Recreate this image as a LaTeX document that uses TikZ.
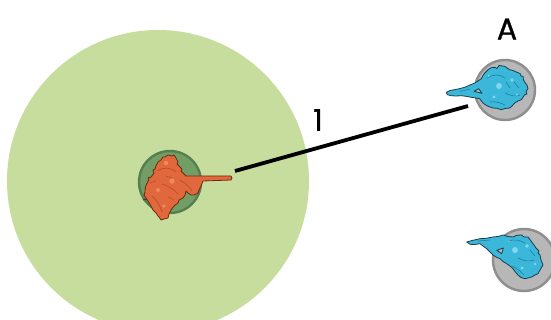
\documentclass[tikz,border=0pt]{standalone}
\usepackage{fontspec}
\setmainfont{Poppins}
\definecolor{rangefill}{HTML}{C7DD9E}
\definecolor{greenbase}{HTML}{729E66}
\definecolor{greenedge}{HTML}{557F4F}
\definecolor{graybase}{HTML}{B7B7B7}
\definecolor{grayedge}{HTML}{8E8E8E}
\definecolor{redfig}{HTML}{E0683C}
\definecolor{redline}{HTML}{6E2A12}
\definecolor{reddetail}{HTML}{B84A22}
\definecolor{redlight}{HTML}{EE8A5E}
\definecolor{bluefig}{HTML}{3BB7DA}
\definecolor{blueline}{HTML}{1B3D4A}
\definecolor{bluedetail}{HTML}{1F7F9F}
\definecolor{bluelight}{HTML}{7FD8F0}
\begin{document}
\begin{tikzpicture}[x=1pt,y=-1pt,
  basedisc/.style={line width=2.4pt},
  figure/.style={line width=0.8pt, line join=round, even odd rule},
  detail/.style={line width=0.6pt, line cap=round},
  txt/.style={font=\fontsize{30}{30}\selectfont\addfontfeature{FakeBold=1}, inner sep=0pt}]
\useasboundingbox (0,0) rectangle (551,320);
\fill[white] (0,0) rectangle (551,320);

\begin{scope}
  \clip (0,0) rectangle (551,320);
  % range circle around the shooter
  \fill[rangefill] (158,181) circle (151pt);
  % bases
  \filldraw[basedisc, fill=greenbase, draw=greenedge] (170,182) circle (31pt);
  \filldraw[basedisc, fill=graybase, draw=grayedge] (505,90) circle (30pt);
  \filldraw[basedisc, fill=graybase, draw=grayedge] (524,260) circle (31pt);
\end{scope}

% line of sight
\coordinate (shooter) at (235,171);
\coordinate (targetA) at (468,106);
\draw[line width=3.8pt] (shooter) -- (targetA);

% shooter figure (orange)
\filldraw[figure, fill=redfig, draw=redline]
  (161,160) -- (163,157) -- (165,157) -- (168,155) -- (172,156) -- (174,155)
  -- (176,158) -- (178,162) -- (177,164) -- (179,166) -- (182,169) -- (181,171)
  -- (183,173) -- (186,176) -- (231,176)
  -- (232,178) -- (231,180) -- (203,181) -- (201,186) -- (199,190)
  -- (198,193) -- (194,195) -- (191,195) -- (188,193) -- (186,191) -- (185,195)
  -- (183,198) -- (179,200) -- (178,203) -- (174,206) -- (171,210) -- (169,214)
  -- (168,218) -- (164,219) -- (161,220) -- (159,217) -- (158,216) -- (156,213)
  -- (153,210) -- (151,206) -- (148,201) -- (146,198) -- (144,195) -- (145,192)
  -- (145,190) -- (146,185) -- (149,180) -- (148,178) -- (151,177) -- (154,173)
  -- (153,170) -- (155,169) -- (156,166) -- (158,162) -- cycle;
\fill[redlight] (166,163) circle (2.2pt);
\fill[redlight] (172,181) circle (2.6pt);
\fill[redlight] (158,190) circle (2pt);
\fill[redlight] (164,206) circle (1.8pt);
\draw[detail, reddetail] (157,171) .. controls (163,167) and (170,167) .. (176,172);
\draw[detail, reddetail] (162,184) .. controls (168,186) and (174,189) .. (178,194);
\draw[detail, reddetail] (180,180) .. controls (185,183) and (189,186) .. (192,191);
\draw[detail, reddetail] (152,196) .. controls (156,200) and (160,205) .. (162,212);
\draw[detail, reddetail] (166,176) -- (172,178);
\draw[detail, reddetail] (150,183) -- (156,181);
\draw[detail, reddetail] (168,197) -- (174,200);
\draw[line width=1pt, redline] (143,200) -- (147,199);

% target figure A (blue)
\filldraw[figure, fill=bluefig, draw=blueline]
  (446.3,92.3) -- (450,90.5) -- (454.7,89.7) -- (459,88.8) -- (464.7,87.3)
  -- (470,85) -- (474.7,83) -- (478,81) -- (481.3,78.7) -- (483,75.5)
  -- (484.7,73) -- (488,69.7) -- (491,67.8) -- (494.7,67.3) -- (497,68.5) -- (499,65.5)
  -- (504.7,66.3) -- (507,68) -- (509.7,69.7) -- (513,70.5) -- (516.3,72) -- (520,73.5)
  -- (521,76) -- (523,76.3) -- (523.5,80) -- (525.3,83) -- (527,85) -- (528,88.7) -- (526,91.5)
  -- (527,94) -- (524.7,94.7) -- (521.3,99.7) -- (518,101) -- (514.7,103) -- (512,106)
  -- (509.7,108) -- (505,108.5) -- (501.3,109.7) -- (497,108.3) -- (493,108)
  -- (488,106.3) -- (485,104.5) -- (483,103) -- (481,100.5) -- (479.7,98.7)
  -- (475,97.8) -- (471.3,97.3) -- (466,96.3) -- (461.3,95.7) -- (456,96)
  -- (451.3,95.7) -- (447.3,94.7) -- cycle
  (474,91.3) -- (478.7,88.7) -- (482,93.3) -- cycle;
\fill[bluelight] (499,86) circle (3pt);
\fill[bluelight] (512,80) circle (1.8pt);
\fill[bluelight] (494,97) circle (1.6pt);
\fill[bluelight] (517,95) circle (1.4pt);
\fill[bluelight] (489,76) circle (1.4pt);
\draw[detail, bluedetail] (487,78) .. controls (493,74) and (500,74) .. (505,78);
\draw[detail, bluedetail] (505,93) .. controls (511,96) and (516,97) .. (520,95);
\draw[detail, bluedetail] (490,102) .. controls (496,101) and (501,103) .. (505,105);
\draw[detail, bluedetail] (514,82) -- (519,88);
\draw[detail, bluedetail] (460,91.5) -- (470,89);
\draw[detail, bluedetail] (506,82) -- (510,88);

% second target figure (blue)
\filldraw[figure, fill=bluefig, draw=blueline]
  (466.7,242) -- (472,240.5) -- (480,238.7) -- (486,238.3) -- (493,237)
  -- (498,236.5) -- (503,235) -- (508,236.5) -- (513,237) -- (517,235.2)
  -- (521.7,235) -- (524,237) -- (528,237) -- (530,239.5) -- (531.7,242) -- (534,245)
  -- (536,248) -- (539,251) -- (538,253) -- (540,255) -- (541,260) -- (543,265)
  -- (540.5,269) -- (538,273.7) -- (535,275) -- (531.7,277) -- (528,278)
  -- (525,278.7) -- (521,277.5) -- (518,275) -- (515,271.5) -- (513,268.7)
  -- (510,266) -- (506.7,263.7) -- (503,261.5) -- (500,258.7) -- (496,257)
  -- (493,255) -- (490,252) -- (486.7,248.7) -- (483,246) -- (480,243.7)
  -- (475,244.5) -- (470,244.3) -- cycle
  (496.7,250.3) -- (503.3,248) -- (501.7,253.7) -- cycle;
\fill[bluelight] (515,250) circle (3pt);
\fill[bluelight] (527,246) circle (1.8pt);
\fill[bluelight] (522,268) circle (1.6pt);
\fill[bluelight] (535,264) circle (1.4pt);
\fill[bluelight] (509,241) circle (1.4pt);
\draw[detail, bluedetail] (508,241) .. controls (514,239) and (520,240) .. (525,243);
\draw[detail, bluedetail] (518,258) .. controls (524,261) and (529,262) .. (534,260);
\draw[detail, bluedetail] (512,266) .. controls (517,268) and (521,272) .. (524,275);
\draw[detail, bluedetail] (530,250) -- (535,256);
\draw[detail, bluedetail] (478,241) -- (490,240);

% labels
\node[txt] (range) at (318,120) {1};
\node[txt] (tagA) at (507,29) {A};
\end{tikzpicture}
\end{document}
